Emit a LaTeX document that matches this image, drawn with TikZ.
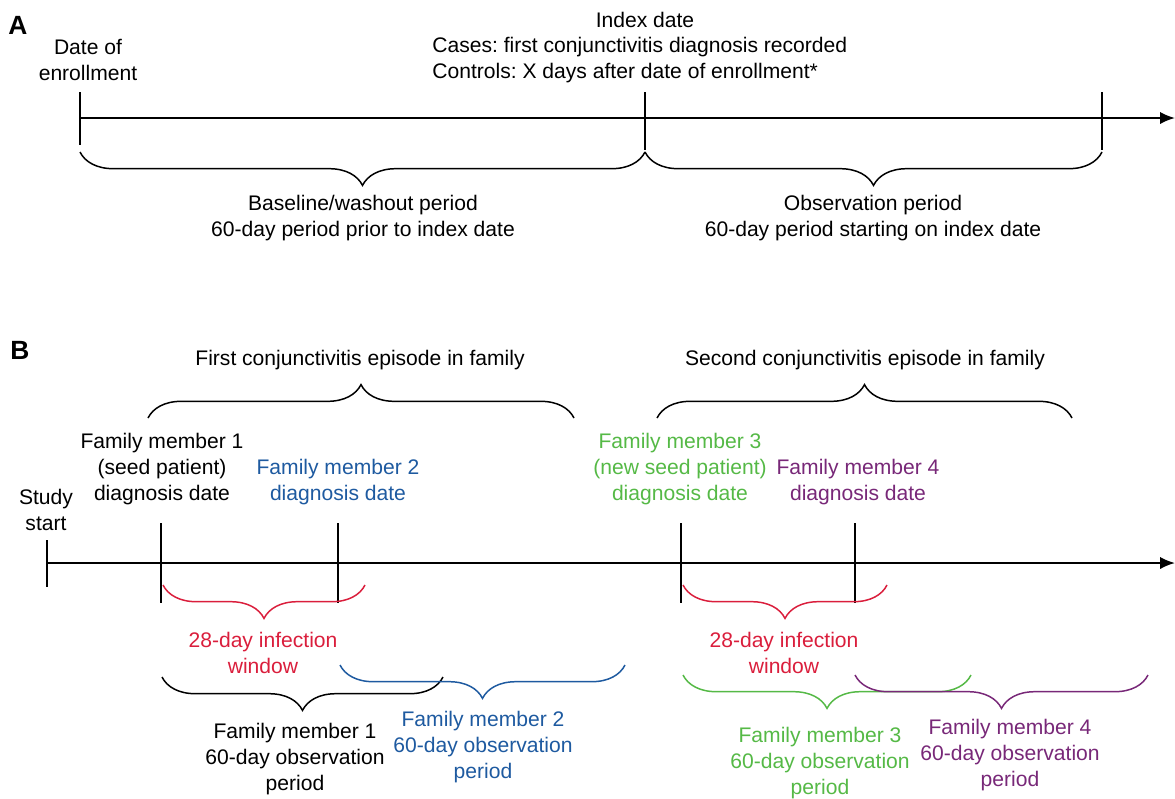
\documentclass[tikz,border=0pt]{standalone}
\usepackage{fontspec}
\setmainfont{Liberation Sans}
\usepackage{xcolor}
\usetikzlibrary{calc,arrows.meta,decorations.pathreplacing,positioning}
\frenchspacing

\definecolor{infred}{RGB}{218,30,60}
\definecolor{famblue}{RGB}{30,90,160}
\definecolor{famgreen}{RGB}{85,185,70}
\definecolor{fampurple}{RGB}{120,40,120}

\tikzset{
  lbl/.style={align=center, font=\fontsize{12}{14.7}\selectfont, inner sep=0pt},
  panel/.style={font=\fontsize{15}{18}\selectfont\bfseries, inner sep=0pt},
  timeaxis/.style={line width=1.1pt, -{Latex[length=8.5pt,width=7pt]}},
  datetick/.style={line width=1.1pt},
  braceup/.style={decorate, decoration={brace, amplitude=19pt}, line width=0.85pt},
  bracedown/.style={decorate, decoration={brace, mirror, amplitude=19pt}, line width=0.85pt}
}

\begin{document}
\begin{tikzpicture}[x=0.02cm, y=-0.02cm]
\useasboundingbox (0,0) rectangle (1175,798);

% ---------------- Panel A ----------------
\node[panel] (pa) at (18,25) {A};

\coordinate (enrol) at (80,118);
\coordinate (index) at (645,118);
\coordinate (obsend) at (1102,118);
\coordinate (aend) at (1175,118);

\draw[timeaxis] (enrol) -- (aend);
\draw[datetick] ($(enrol)+(0,-26)$) -- ($(enrol)+(0,27)$);
\draw[datetick] ($(index)+(0,-26)$) -- ($(index)+(0,32)$);
\draw[datetick] ($(obsend)+(0,-26)$) -- ($(obsend)+(0,32)$);

\node[lbl] (enroltxt) at (88,60) {Date of\\enrollment};
\node[lbl] (indextxt) at (645,20) {Index date};
\node[lbl, align=left, anchor=west] (indexdef) at (432,60) {Cases: first conjunctivitis diagnosis recorded\\Controls: X days after date of enrollment*};

% braces
\coordinate (b1) at (80,152);
\coordinate (b2) at (645,152);
\coordinate (b3) at (1102,152);
\draw[bracedown] (b1) -- (b2);
\draw[bracedown] (b2) -- (b3);

\node[lbl] (washout) at (363,218) {Baseline/washout period\\60-day period prior to index date};
\node[lbl] (obs) at (873,218) {Observation period\\60-day period starting on index date};

% ---------------- Panel B ----------------
\node[panel] (pb) at (20,350) {B};

\node[lbl] (ep1) at (360,360) {First conjunctivitis episode in family};
\node[lbl] (ep2) at (865,360) {Second conjunctivitis episode in family};

\coordinate (ep1l) at (148,418);
\coordinate (ep1r) at (574,418);
\coordinate (ep2l) at (657,418);
\coordinate (ep2r) at (1072,418);
\draw[braceup] (ep1l) -- (ep1r);
\draw[braceup] (ep2l) -- (ep2r);

\coordinate (start) at (47,563);
\coordinate (fm1) at (161,563);
\coordinate (fm2) at (338,563);
\coordinate (fm3) at (681,563);
\coordinate (fm4) at (855,563);
\coordinate (bend) at (1175,563);

\draw[timeaxis] (start) -- (bend);
\draw[datetick] ($(start)+(0,-23)$) -- ($(start)+(0,24)$);
\foreach \d in {fm1,fm2,fm3,fm4}
  \draw[datetick] ($(\d)+(0,-40)$) -- ($(\d)+(0,40)$);

\node[lbl] (starttxt) at (46,510) {Study\\start};
\node[lbl] (fm1txt) at (162,469) {Family member 1\\(seed patient)\\diagnosis date};
\node[lbl, text=famblue] (fm2txt) at (338,482) {Family member 2\\diagnosis date};
\node[lbl, text=famgreen] (fm3txt) at (680,469) {Family member 3\\(new seed patient)\\diagnosis date};
\node[lbl, text=fampurple] (fm4txt) at (858,482) {Family member 4\\diagnosis date};

% infection windows
\coordinate (w1l) at (163,585);
\coordinate (w1r) at (365,585);
\coordinate (w2l) at (683,585);
\coordinate (w2r) at (887,585);
\draw[bracedown, infred] (w1l) -- (w1r);
\draw[bracedown, infred] (w2l) -- (w2r);
\node[lbl, text=infred] (win1) at (263,653) {28-day infection\\window};
\node[lbl, text=infred] (win2) at (784,653) {28-day infection\\window};

% observation periods
\coordinate (o1l) at (162,677);
\coordinate (o1r) at (443,677);
\coordinate (o2l) at (340,665);
\coordinate (o2r) at (625,665);
\coordinate (o3l) at (683,675);
\coordinate (o3r) at (971,675);
\coordinate (o4l) at (855,675);
\coordinate (o4r) at (1148,675);
\draw[bracedown] (o1l) -- (o1r);
\draw[bracedown, famblue] (o2l) -- (o2r);
\draw[bracedown, famgreen] (o3l) -- (o3r);
\draw[bracedown, fampurple] (o4l) -- (o4r);

\node[lbl] (obs1) at (295,759) {Family member 1\\60-day observation\\period};
\node[lbl, text=famblue] (obs2) at (483,747) {Family member 2\\60-day observation\\period};
\node[lbl, text=famgreen] (obs3) at (820,763) {Family member 3\\60-day observation\\period};
\node[lbl, text=fampurple] (obs4) at (1010,755) {Family member 4\\60-day observation\\period};

\end{tikzpicture}
\end{document}
